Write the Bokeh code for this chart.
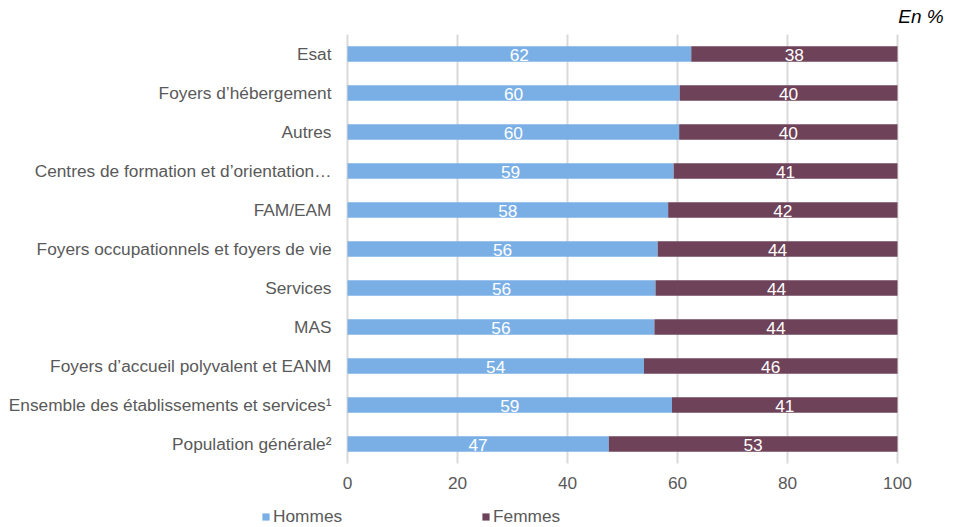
from bokeh.plotting import figure
from bokeh.models import (ColumnDataSource, Legend, LegendItem, Label, Range1d,
                          LinearAxis, FixedTicker)
from bokeh.core.properties import value
from bokeh.embed import file_html
from bokeh.resources import INLINE

categories = [
    "Esat",
    "Foyers d’hébergement",
    "Autres",
    "Centres de formation et d’orientation…",
    "FAM/EAM",
    "Foyers occupationnels et foyers de vie",
    "Services",
    "MAS",
    "Foyers d’accueil polyvalent et EANM",
    "Ensemble des établissements et services¹",
    "Population générale²",
]
hommes = [62.5, 60.4, 60.3, 59.3, 58.3, 56.4, 56.0, 55.8, 53.9, 59.0, 47.5]
femmes = [37.5, 39.6, 39.7, 40.7, 41.7, 43.6, 44.0, 44.2, 46.1, 41.0, 52.5]
hommes_labels = ["62", "60", "60", "59", "58", "56", "56", "56", "54", "59", "47"]
femmes_labels = ["38", "40", "40", "41", "42", "44", "44", "44", "46", "41", "53"]
x_ticks = [0, 20, 40, 60, 80, 100]
series_names = ["Hommes", "Femmes"]

FONT = "Liberation Sans"
FS = "17.3px"
GRAY = "#595959"
C_H = "#7AAFE6"
C_F = "#6E4259"

n = len(categories)
pos = [n - 1 - i for i in range(n)]          # Esat at top

src = ColumnDataSource(dict(
    y=pos,
    h_end=[a for a in hommes],
    f_end=[a + b for a, b in zip(hommes, femmes)],
    h_mid=[a / 2 for a in hommes],
    f_mid=[a + b / 2 for a, b in zip(hommes, femmes)],
    hl=hommes_labels,
    fl=femmes_labels,
))

# frame covers the whole canvas; scale: 5.5 px per % and 39 px per category
W, H = 953, 527
PX_X, PX_Y = 5.5, 39.0
X0_PX, TOP_PX = 347, 34
x_start = -X0_PX / PX_X
x_end = x_start + W / PX_X
y_end = (n - 0.5) + TOP_PX / PX_Y
y_start = y_end - H / PX_Y

p = figure(width=W, height=H, x_range=Range1d(x_start, x_end),
           y_range=Range1d(y_start, y_end),
           x_axis_location=None, y_axis_location=None,
           output_backend="svg", toolbar_location=None, min_border=0)
p.outline_line_color = None
p.grid.visible = False

# vertical gridlines over the plotting area
p.segment(x0=x_ticks, x1=x_ticks, y0=-0.5, y1=n - 0.5,
          line_color="#D9D9D9", line_width=2)

rh = p.hbar(y="y", left=0, right="h_end", height=0.40, source=src,
            fill_color=C_H, line_color=None)
rf = p.hbar(y="y", left="h_end", right="f_end", height=0.40, source=src,
            fill_color=C_F, line_color=None)

p.text(x="h_mid", y="y", text="hl", source=src, text_color="white",
       text_font=value(FONT), text_font_size=FS, text_align="center",
       text_baseline="middle", y_offset=1)
p.text(x="f_mid", y="y", text="fl", source=src, text_color="white",
       text_font=value(FONT), text_font_size=FS, text_align="center",
       text_baseline="middle", y_offset=1)

# x axis fixed at the bottom of the plotting area
xa = LinearAxis(fixed_location=-0.5, ticker=FixedTicker(ticks=x_ticks))
xa.axis_line_color = None
xa.major_tick_line_color = None
xa.minor_tick_line_color = None
xa.major_label_text_font = FONT
xa.major_label_text_font_size = FS
xa.major_label_text_color = GRAY
xa.major_label_standoff = 7
p.add_layout(xa, "below")

# y axis fixed at x = 0, category names as labels
ya = LinearAxis(fixed_location=0, ticker=FixedTicker(ticks=pos))
ya.major_label_overrides = {pp: c for pp, c in zip(pos, categories)}
ya.axis_line_color = None
ya.major_tick_line_color = None
ya.minor_tick_line_color = None
ya.major_label_text_font = FONT
ya.major_label_text_font_size = FS
ya.major_label_text_color = GRAY
ya.major_label_standoff = 10
p.add_layout(ya, "left")

# unit note
p.add_layout(Label(x=108.4, y=(n - 0.5) + 18 / PX_Y, text="En %", text_align="right",
                   text_baseline="middle", text_font=FONT, text_font_size="19px",
                   text_font_style="italic", text_color="#000000"))

legend = Legend(items=[LegendItem(label=series_names[0], renderers=[rh]),
                       LegendItem(label=series_names[1], renderers=[rf])],
                orientation="horizontal", location=(261, 0),
                label_text_font=FONT, label_text_font_size=FS,
                label_text_color=GRAY, glyph_width=9, glyph_height=9,
                spacing=138, padding=0, margin=0, label_standoff=3,
                label_height=18, label_width=70,
                border_line_color=None, background_fill_alpha=0)
p.add_layout(legend, "center")

open("out.html", "w").write(file_html(p, INLINE))
